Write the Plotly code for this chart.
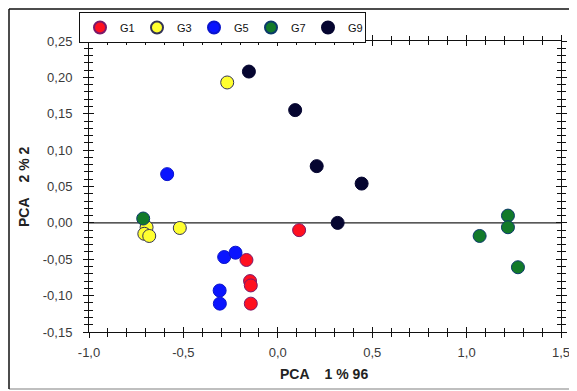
import plotly.graph_objects as go

# Data (PCA scores)
g1_x = [0.113, -0.166, -0.147, -0.143, -0.143]
g1_y = [-0.010, -0.051, -0.080, -0.086, -0.111]
g3_x = [-0.268, -0.695, -0.707, -0.681, -0.519]
g3_y = [0.193, -0.006, -0.015, -0.018, -0.007]
g5_x = [-0.586, -0.284, -0.224, -0.308, -0.307]
g5_y = [0.067, -0.047, -0.041, -0.093, -0.111]
g7_x = [-0.713, 1.069, 1.219, 1.219, 1.272]
g7_y = [0.006, -0.018, 0.010, -0.006, -0.061]
g9_x = [-0.153, 0.092, 0.206, 0.444, 0.317]
g9_y = [0.208, 0.155, 0.078, 0.054, 0.000]

names = ["G1", "G3", "G5", "G7", "G9"]
fills = ["#ff1020", "#ffff30", "#0a14ff", "#127a2a", "#050530"]
edges = ["#7a1a6a", "#333355", "#0a14cc", "#0b3a6a", "#050530"]

x_ticks = [-1.0, -0.5, 0.0, 0.5, 1.0, 1.5]
x_ticktext = ["-1,0", "-0,5", "0,0", "0,5", "1,0", "1,5"]
y_ticks = [-0.15, -0.10, -0.05, 0.00, 0.05, 0.10, 0.15, 0.20, 0.25]
y_ticktext = ["-0,15", "-0,10", "-0,05", "0,00", "0,05", "0,10", "0,15", "0,20", "0,25"]
x_title = "<b>PCA    1 % 96</b>"
y_title = "<b>PCA    2 % 2</b>"

xs = [g1_x, g3_x, g5_x, g7_x, g9_x]
ys = [g1_y, g3_y, g5_y, g7_y, g9_y]

fig = go.Figure()
for n, x, y, f, e in zip(names, xs, ys, fills, edges):
    fig.add_trace(go.Scatter(x=x, y=y, mode="markers", name=n,
                             marker=dict(size=13, color=f, line=dict(color=e, width=1))))

# invisible trace on overlay axes for inside ticks
fig.add_trace(go.Scatter(x=[-1.0, 1.5], y=[-0.15, 0.25], xaxis="x2", yaxis="y2",
                         mode="markers", marker=dict(opacity=0), showlegend=False,
                         hoverinfo="skip"))

font = dict(family="Liberation Sans, Arial, sans-serif", size=12, color="#333333")
tickfont = dict(family="Liberation Sans, Arial, sans-serif", size=13, color="#3a3a3a")
OFF = 8  # page body margin offset
W, H = 577 - OFF, 391 - OFF
L, T = 89 - OFF, 41 - OFF
pw, ph = 472, 291
R, B = W - L - pw, H - T - ph

def px(xpix):  # page pixel -> paper fraction
    return (xpix - OFF - L) / pw

def py(ypix):
    return (T + ph - (ypix - OFF)) / ph

fig.update_layout(
    width=W, height=H,
    margin=dict(l=L, r=R, t=T, b=B, autoexpand=False),
    paper_bgcolor="white", plot_bgcolor="white",
    font=font,
    showlegend=True,
    legend=dict(orientation="h", x=px(79), y=py(12), xanchor="left", yanchor="top",
                bordercolor="#111111", borderwidth=1, bgcolor="white",
                font=dict(family="Liberation Sans, Arial, sans-serif", size=11, color="#111111"),
                entrywidth=12, entrywidthmode="pixels",
                tracegroupgap=0, itemsizing="constant"),
    xaxis=dict(range=[-1.0, 1.5], tickvals=x_ticks, ticktext=x_ticktext, automargin=False,
               tickfont=tickfont, ticklabelstandoff=3,
               showgrid=False, zeroline=False, showline=True, linecolor="#111111", linewidth=1,
               mirror="allticks", ticks="outside", ticklen=5, tickcolor="#111111",
               minor=dict(dtick=0.1, ticks="outside", ticklen=4, tickcolor="#111111", showgrid=False)),
    yaxis=dict(range=[-0.15, 0.25], tickvals=y_ticks, ticktext=y_ticktext, automargin=False,
               tickfont=tickfont, ticklabelstandoff=8,
               showgrid=False, zeroline=False, showline=True, linecolor="#111111", linewidth=1,
               mirror="allticks", ticks="outside", ticklen=5, tickcolor="#111111",
               minor=dict(dtick=0.01, ticks="outside", ticklen=4, tickcolor="#111111", showgrid=False)),
    xaxis2=dict(overlaying="x", matches="x", range=[-1.0, 1.5], showticklabels=False,
                showgrid=False, zeroline=False, tickvals=x_ticks, automargin=False,
                mirror="allticks", ticks="inside", ticklen=5, tickcolor="#111111",
                minor=dict(dtick=0.1, ticks="inside", ticklen=4, tickcolor="#111111")),
    yaxis2=dict(overlaying="y", matches="y", range=[-0.15, 0.25], showticklabels=False,
                showgrid=False, zeroline=False, tickvals=y_ticks, automargin=False,
                mirror="allticks", ticks="inside", ticklen=5, tickcolor="#111111",
                minor=dict(dtick=0.01, ticks="inside", ticklen=4, tickcolor="#111111")),
    annotations=[
        dict(text=x_title, xref="paper", yref="paper", x=px(324), y=py(374),
             xanchor="center", yanchor="middle", showarrow=False,
             font=dict(size=14, color="#222222")),
        dict(text=y_title, xref="paper", yref="paper", x=px(24), y=py(187),
             xanchor="center", yanchor="middle", showarrow=False, textangle=-90,
             font=dict(size=14, color="#222222")),
    ],
    shapes=[
        dict(type="line", xref="paper", yref="y", x0=0, x1=1, y0=0, y1=0,
             line=dict(color="#222222", width=1.2), layer="below"),
        # outer frame
        dict(type="line", xref="paper", yref="paper", x0=px(9), x1=px(577), y0=py(389), y1=py(389),
             line=dict(color="#aaaaaa", width=1.5)),
        dict(type="line", xref="paper", yref="paper", x0=px(9), x1=px(9), y0=py(389), y1=py(9),
             line=dict(color="#111111", width=1.5)),
        dict(type="line", xref="paper", yref="paper", x0=px(9), x1=px(577), y0=py(9), y1=py(9),
             line=dict(color="#111111", width=1.5)),
    ],
)

fig.write_html("out.html")
